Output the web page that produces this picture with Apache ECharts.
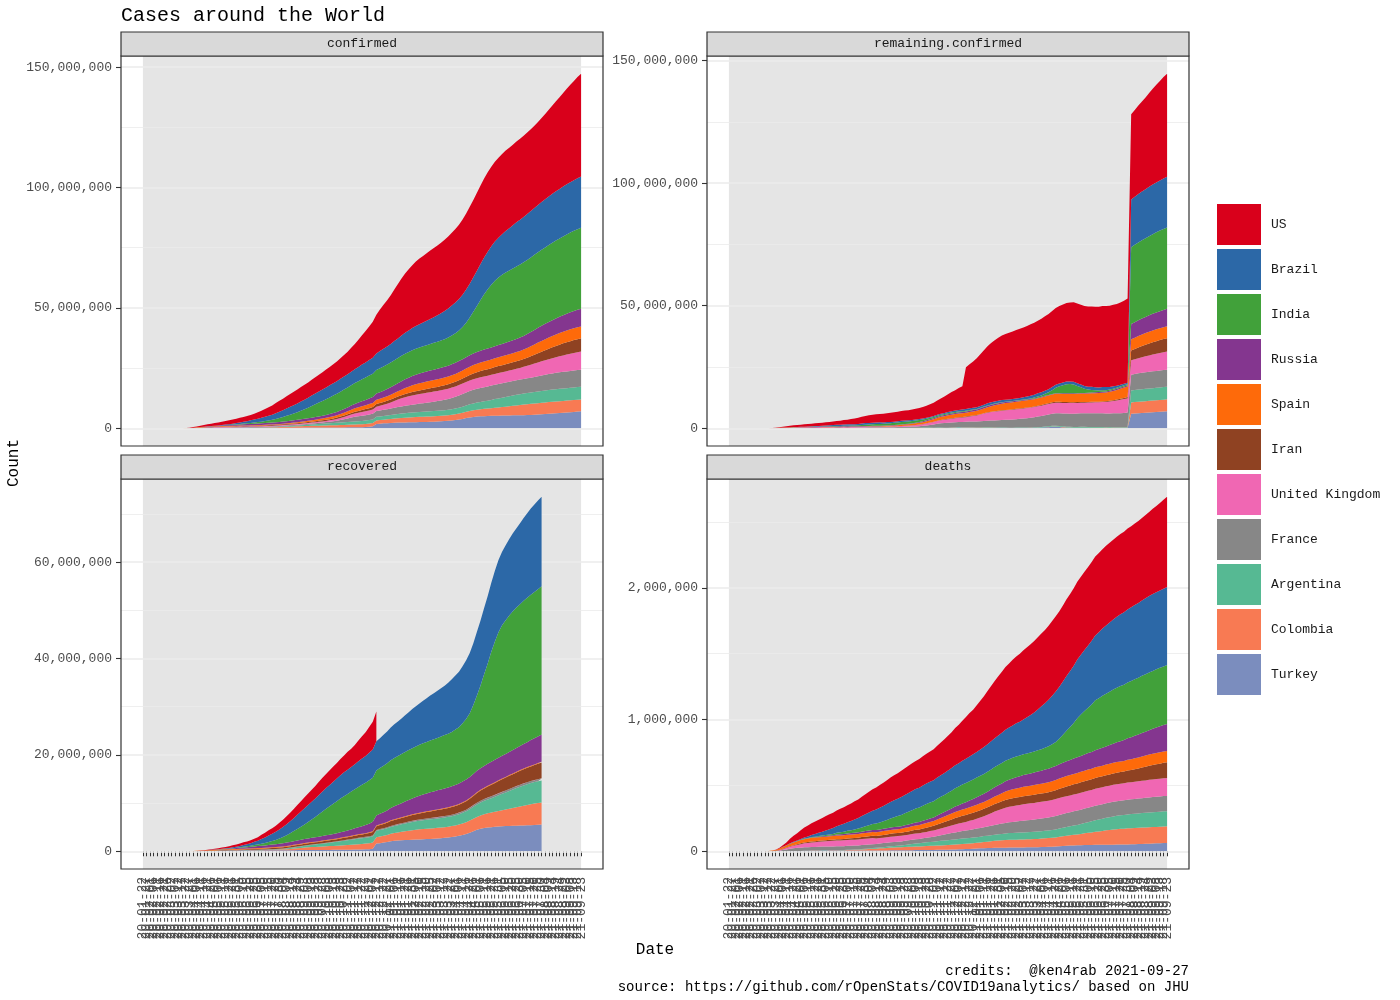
<!DOCTYPE html>
<html><head><meta charset="utf-8">
<script src="https://cdn.jsdelivr.net/npm/echarts@6/dist/echarts.min.js"></script>
<style>html,body{margin:0;padding:0;background:#fff}#c{width:1400px;height:1000px}</style>
</head><body><div id="c"></div>
<script>
// ---- categories (dates, %y-%m-%d) ----
const dates = ['20-01-22','20-01-27','20-02-01','20-02-06','20-02-11','20-02-16','20-02-21','20-02-26','20-03-02','20-03-07',
'20-03-12','20-03-17','20-03-22','20-03-27','20-04-01','20-04-06','20-04-11','20-04-16','20-04-21','20-04-26',
'20-05-01','20-05-06','20-05-11','20-05-16','20-05-21','20-05-26','20-05-31','20-06-05','20-06-10','20-06-15',
'20-06-20','20-06-25','20-06-30','20-07-05','20-07-10','20-07-15','20-07-20','20-07-25','20-07-30','20-08-04',
'20-08-09','20-08-14','20-08-19','20-08-24','20-08-29','20-09-03','20-09-08','20-09-13','20-09-18','20-09-23',
'20-09-28','20-10-03','20-10-08','20-10-13','20-10-18','20-10-23','20-10-28','20-11-02','20-11-07','20-11-12',
'20-11-17','20-11-22','20-11-27','20-12-02','20-12-07','20-12-12','20-12-17','20-12-22','20-12-27','21-01-01',
'21-01-06','21-01-11','21-01-16','21-01-21','21-01-26','21-01-31','21-02-05','21-02-10','21-02-15','21-02-20',
'21-02-25','21-03-02','21-03-07','21-03-12','21-03-17','21-03-22','21-03-27','21-04-01','21-04-06','21-04-11',
'21-04-16','21-04-21','21-04-26','21-05-01','21-05-06','21-05-11','21-05-16','21-05-21','21-05-26','21-05-31',
'21-06-05','21-06-10','21-06-15','21-06-20','21-06-25','21-06-30','21-07-05','21-07-10','21-07-15','21-07-20',
'21-07-25','21-07-30','21-08-04','21-08-09','21-08-14','21-08-19','21-08-24','21-08-29','21-09-03','21-09-08',
'21-09-13','21-09-18','21-09-23'];

const countries = ['US','Brazil','India','Russia','Spain','Iran','United Kingdom','France','Argentina','Colombia','Turkey'];
const countryColors = ['#D9001B','#2C68A7','#41A13A','#84368F','#FE6A0A','#8F4222','#F067B3','#878787','#56B993','#F87A53','#7B8DBE'];

// ---- y-axis tick labels per facet ----
const confirmedTicks = [0, 50000000, 100000000, 150000000];
const remainingTicks = [0, 50000000, 100000000, 150000000];
const recoveredTicks = [0, 20000000, 40000000, 60000000];
const deathsTicks = [0, 1000000, 2000000];

// ---- confirmed (thousands) ----
const confirmedUS = [0,0,0,0,0,0,0,0,0,0, 2,6,33,101,214,367,526,667,826,965, 1100,1228,1347,1467,1577,1681,1790,1897,2000,2111,
2250,2420,2637,2888,3184,3500,3830,4180,4500,4770, 5050,5330,5560,5770,5990,6200,6370,6560,6770,6970,
7170,7400,7650,7900,8170,8520,8900,9350,9900,10500, 11300,12150,13050,13950,14950,16050,17250,18300,19250,20250,
21400,22600,23700,24600,25400,26100,26750,27250,27650,28050, 28400,28700,29000,29300,29600,29900,30200,30550,30900,31250,
31600,31900,32150,32400,32600,32800,32950,33050,33150,33250, 33330,33400,33470,33530,33600,33650,33730,33850,34000,34200,
34450,34900,35400,36000,36700,37400,38100,38900,39700,40500, 41200,42000,42700];
const confirmedBrazil = [0,0,0,0,0,0,0,0,0,0, 0,0,2,3,7,12,21,31,43,62, 92,126,169,234,311,392,514,646,772,888,
1070,1230,1400,1580,1800,1970,2120,2390,2610,2800, 3040,3280,3460,3630,3850,4040,4160,4330,4500,4630,
4750,4880,5000,5100,5230,5350,5470,5550,5630,5750, 5910,6070,6240,6430,6630,6880,7110,7320,7480,7700,
7960,8130,8460,8700,8930,9200,9450,9660,9870,10080, 10390,10650,11020,11360,11690,12050,12490,12840,13100,13480,
13830,14120,14370,14660,15000,15280,15590,15970,16270,16550, 16900,17300,17530,17880,18330,18620,18800,19090,19260,19420,
19650,19840,20030,20160,20320,20460,20580,20740,20860,20930, 21020,21230,21330];
const confirmedIndia = [0,0,0,0,0,0,0,0,0,0, 0,0,0,1,2,5,8,13,20,28, 37,53,71,91,118,150,190,236,287,343,
411,491,586,697,822,970,1155,1385,1640,1908, 2215,2526,2837,3167,3542,3936,4370,4846,5308,5732,
6145,6550,6907,7239,7550,7814,8040,8230,8460,8680, 8870,9140,9350,9530,9680,9830,9960,10060,10190,10290,
10390,10470,10560,10630,10680,10750,10810,10870,10920,10990, 11060,11140,11230,11330,11470,11650,11910,12250,12690,13360,
14290,15620,17310,19170,21070,22990,24680,26030,27160,28010, 28700,29190,29570,29880,30130,30360,30590,30800,30990,31170,
31370,31570,31770,31970,32160,32320,32470,32700,32910,33170, 33340,33470,33590];
const confirmedRussia = [0,0,0,0,0,0,0,0,0,0, 0,0,0,1,3,7,14,28,53,87, 115,166,222,273,317,363,405,450,494,537,
577,613,647,681,713,746,776,806,834,861, 887,912,937,961,985,1010,1035,1062,1092,1128,
1170,1220,1280,1347,1415,1487,1564,1655,1750,1850, 1950,2065,2190,2320,2460,2600,2740,2880,3020,3150,
3260,3400,3520,3630,3740,3840,3930,4010,4090,4160, 4230,4290,4350,4400,4450,4500,4540,4590,4630,4670,
4710,4750,4790,4830,4870,4910,4950,4990,5030,5080, 5130,5190,5260,5350,5450,5560,5680,5800,5930,6050,
6170,6280,6390,6490,6590,6690,6790,6880,6970,7060, 7150,7250,7340];
const confirmedSpain = [0,0,0,0,0,0,0,0,0,1, 3,12,29,65,104,136,163,184,205,223, 218,221,227,231,233,236,239,241,242,244,
246,248,250,251,254,258,264,273,286,302, 322,343,370,405,440,480,535,576,640,694,
749,789,848,896,937,1046,1160,1240,1330,1440, 1510,1580,1630,1670,1700,1730,1770,1820,1860,1930,
2020,2140,2250,2460,2640,2790,2910,3000,3060,3110, 3150,3170,3190,3200,3220,3240,3260,3280,3310,3350,
3380,3420,3460,3490,3540,3580,3600,3620,3660,3680, 3700,3720,3740,3760,3780,3810,3880,4000,4160,4310,
4450,4550,4610,4660,4710,4760,4800,4830,4870,4890, 4910,4930,4950];
const confirmedIran = [0,0,0,0,0,0,0,0,2,6, 10,17,22,32,47,60,70,78,85,91, 96,101,108,118,128,139,152,168,180,190,
203,215,227,240,252,264,276,288,301,314, 324,336,348,359,371,382,395,407,419,432,
453,475,496,518,539,568,597,632,673,716, 763,828,895,962,1028,1083,1131,1170,1203,1233,
1262,1290,1320,1350,1380,1420,1455,1490,1530,1570, 1615,1660,1700,1740,1780,1820,1860,1910,1980,2070,
2190,2310,2420,2520,2600,2670,2730,2790,2840,2890, 2940,2990,3040,3100,3150,3220,3290,3380,3490,3620,
3770,3950,4120,4300,4500,4690,4870,5030,5160,5270, 5360,5430,5480];
const confirmedUK = [0,0,0,0,0,0,0,0,0,0, 1,2,6,15,30,52,80,104,131,153, 178,203,224,241,252,263,275,285,292,298,
304,308,313,286,289,292,296,300,303,307, 312,317,322,327,334,340,355,372,391,415,
443,491,562,640,725,830,942,1058,1180,1310, 1430,1530,1610,1680,1750,1850,1960,2110,2300,2550,
2840,3120,3360,3550,3690,3820,3920,3990,4050,4100, 4140,4180,4210,4240,4270,4300,4330,4350,4370,4380,
4400,4410,4420,4430,4440,4450,4460,4470,4490,4500, 4530,4560,4610,4670,4750,4860,5000,5170,5390,5610,
5800,5900,6040,6170,6320,6480,6630,6790,6970,7120, 7280,7440,7600];
const confirmedFrance = [0,0,0,0,0,0,0,0,0,1, 3,8,16,33,57,99,125,148,158,162, 168,174,178,180,181,183,189,191,193,194,
197,198,202,205,208,211,214,219,225,229, 240,253,266,282,309,335,365,404,444,493,
539,606,676,757,869,1040,1240,1470,1750,1950, 2060,2170,2240,2280,2330,2390,2460,2530,2590,2680,
2770,2870,2970,3070,3170,3280,3390,3500,3580,3680, 3800,3920,4030,4160,4310,4470,4650,4850,5060,5240,
5380,5530,5620,5690,5790,5850,5890,5940,5990,6010, 6030,6050,6060,6070,6080,6090,6100,6120,6160,6220,
6310,6420,6530,6630,6730,6810,6880,6930,6970,7000, 7030,7050,7060];
const confirmedArgentina = [0,0,0,0,0,0,0,0,0,0, 0,0,0,1,1,2,2,3,3,4, 5,5,6,8,10,13,17,21,26,33,
42,53,65,77,94,111,131,153,180,207, 242,277,313,359,408,461,513,566,623,677,
736,791,849,917,989,1069,1130,1183,1236,1285, 1330,1370,1400,1440,1470,1500,1530,1560,1590,1630,
1680,1740,1790,1840,1880,1920,1960,1990,2030,2060, 2100,2130,2160,2200,2230,2260,2320,2380,2450,2530,
2630,2740,2850,2960,3050,3150,3270,3420,3590,3750, 3880,4020,4150,4260,4370,4450,4560,4640,4720,4800,
4860,4920,4970,5020,5060,5090,5120,5150,5170,5200, 5220,5240,5250];
const confirmedColombia = [0,0,0,0,0,0,0,0,0,0, 0,0,0,1,1,2,3,3,4,5, 7,9,11,15,18,24,30,37,46,57,
69,84,98,117,134,166,198,241,287,335, 385,434,489,542,600,641,679,716,751,784,
818,847,877,919,959,998,1033,1064,1127,1165, 1206,1248,1300,1340,1390,1440,1480,1530,1600,1660,
1740,1820,1910,1990,2060,2120,2160,2190,2220,2240, 2260,2270,2290,2300,2320,2340,2380,2420,2470,2530,
2600,2690,2780,2870,2950,3030,3110,3200,3310,3420, 3540,3660,3810,3960,4110,4250,4400,4520,4610,4670,
4720,4760,4790,4820,4840,4860,4880,4890,4900,4910, 4930,4940,4950];
const confirmedTurkey = [0,0,0,0,0,0,0,0,0,0, 0,0,1,6,16,31,52,74,96,110, 123,131,139,148,153,158,164,169,174,180,
187,195,200,206,209,215,220,224,229,234, 240,247,254,261,268,276,284,291,299,307,
316,323,330,338,345,354,364,377,392,410, 430,453,510,660,830,1810,1930,2040,2120,2220,
2300,2360,2400,2430,2460,2480,2520,2560,2590,2630, 2680,2730,2800,2880,2970,3090,3240,3400,3630,3900,
4220,4500,4710,4850,4950,5040,5100,5160,5210,5250, 5290,5320,5350,5370,5400,5420,5450,5490,5530,5590,
5680,5800,5930,6060,6170,6270,6370,6480,6590,6700, 6800,6930,7040];

// ---- recovered (thousands); reporting stops after the last value ----
const recoveredUS = [0,0,0,0,0,0,0,0,0,0, 0,0,0,1,8,20,31,54,77,107, 164,200,246,298,361,416,463,500,541,576,
617,656,721,894,983,1075,1160,1279,1416,1528, 1669,1797,1925,2023,2140,2266,2387,2474,2591,2710,
2840,2935,3039,3141,3220,3375,3487,3706,3781,4000, 4290,4630,4947,5350,5714,6200];
const recoveredBrazil = [0,0,0,0,0,0,0,0,0,0, 0,0,0,0,0,0,0,14,23,27, 38,51,67,94,122,158,212,277,378,450,
534,677,789,958,1150,1370,1530,1690,1880,2070, 2270,2480,2670,2950,3160,3380,3550,3720,3850,4000,
4140,4300,4430,4560,4700,4840,4970,5030,5090,5200, 5340,5440,5530,5700,5870,6040,6200,6400,6600,6800,
7000,7190,7370,7620,7860,8110,8360,8600,8830,9090, 9350,9560,9800,10030,10260,10570,10940,11250,11550,11870,
12200,12510,12840,13180,13500,13750,14000,14330,14670,14970, 15270,15580,15900,16160,16430,16800,17190,17540,17900,18170,
18430,18600];
const recoveredIndia = [0,0,0,0,0,0,0,0,0,0, 0,0,0,0,0,0,1,2,4,6, 10,15,22,34,48,64,91,114,142,180,
228,285,347,424,516,612,725,885,1060,1282, 1536,1808,2096,2404,2713,3037,3398,3780,4208,4674,
5101,5509,5900,6301,6663,7003,7315,7591,7868,8112, 8335,8578,8786,8990,9160,9340,9500,9650,9780,9900,
10020,10120,10210,10290,10360,10430,10500,10570,10620,10670, 10730,10800,10880,10960,11060,11160,11250,11490,11660,12090,
12570,13240,14290,15660,17140,18990,20810,22840,24550,26030, 27050,27730,28290,28800,29140,29430,29720,29950,30160,30340,
30540,30740];
const recoveredRussia = [0,0,0,0,0,0,0,0,0,0, 0,0,0,0,0,0,1,2,4,8, 13,20,40,63,86,131,172,213,253,285,
333,375,412,451,489,525,559,591,637,667, 700,731,752,779,803,828,851,874,900,924,
954,985,1014,1047,1080,1122,1172,1227,1305,1385, 1480,1575,1680,1800,1950,2070,2180,2290,2420,2560,
2660,2770,2900,3030,3160,3280,3400,3510,3620,3720, 3810,3880,3950,4010,4060,4110,4160,4210,4250,4300,
4340,4380,4420,4460,4490,4530,4570,4610,4650,4690, 4730,4770,4810,4860,4920,4990,5080,5180,5300,5420,
5540,5650];
const recoveredSpain = [0,0,0,0,0,0,0,0,0,0, 0,1,3,9,23,41,59,75,86,109, 118,137,139,146,150,150,150,150,150,150,
150,150,150,150,150,150,150,150,150,150, 150,150,150,150,150,150,150,150,150,150,
150,150,150,150,150,150,150,150,150,150, 150,150,150,150,150,150,150,150,150,150,
150,150,150,150,150,150,150,150,150,150, 150,150,150,150,150,150,150,150,150,150,
150,150,150,150,150,150,150,150,150,150, 150,150,150,150,150,150,150,150,150,150,
150,150];
const recoveredIran = [0,0,0,0,0,0,0,0,0,2, 3,6,8,11,16,24,42,52,61,70, 77,81,85,94,101,109,119,131,142,152,
164,176,189,202,214,227,239,251,261,272, 282,291,301,311,321,330,340,350,361,364,
378,389,402,413,429,454,482,506,537,567, 577,593,618,672,725,780,832,881,920,1000,
1040,1080,1110,1140,1170,1200,1230,1260,1300,1330, 1370,1410,1450,1480,1520,1540,1570,1600,1640,1680,
1740,1810,1910,2010,2110,2200,2300,2390,2470,2550, 2610,2660,2720,2770,2820,2870,2920,2970,3030,3100,
3180,3290];
const recoveredUK = [0,0,0,0,0,0,0,0,0,0, 0,0,0,0,0,0,0,0,0,0, 0,0,0,0,0,0,1,1,1,1,
1,1,1,1,1,1,2,2,2,2, 2,2,2,2,2,2,2,2,2,2,
2,2,2,3,3,3,3,3,3,3, 3,3,3,4,4,4,4,4,5,5,
6,6,7,7,8,8,9,10,10,11, 11,12,12,13,13,14,14,15,15,15,
16,16,16,17,17,17,18,18,18,19, 19,19,20,20,21,21,22,23,24,24,
25,25];
const recoveredFrance = [0,0,0,0,0,0,0,0,0,0, 0,1,2,5,10,17,25,32,40,45, 50,54,57,60,64,66,68,69,71,72,
74,75,76,77,79,79,80,81,82,82, 83,84,85,86,87,89,91,92,94,96,
98,100,103,106,110,115,120,127,135,145, 154,162,170,174,178,182,186,190,195,200,
205,210,215,220,225,230,236,242,248,253, 258,263,268,274,280,286,293,300,308,316,
324,332,340,347,354,360,366,371,376,380, 384,387,390,392,394,396,397,399,400,402,
404,406];
const recoveredArgentina = [0,0,0,0,0,0,0,0,0,0, 0,0,0,0,0,0,1,1,1,1, 1,2,2,3,3,4,5,7,8,10,
13,20,26,32,39,48,57,67,78,100, 135,180,225,271,312,344,395,440,484,537,
586,638,689,743,799,874,935,1003,1063,1114, 1160,1200,1231,1265,1294,1323,1353,1380,1410,1440,
1480,1510,1560,1610,1660,1710,1750,1790,1830,1860, 1890,1920,1950,1980,2010,2040,2070,2110,2150,2210,
2270,2360,2460,2570,2680,2780,2880,2990,3120,3280, 3430,3570,3720,3860,3990,4110,4210,4300,4390,4460,
4530,4600];
const recoveredColombia = [0,0,0,0,0,0,0,0,0,0, 0,0,0,0,0,0,0,1,1,1, 2,2,3,4,4,6,12,15,18,23,
29,36,43,52,57,74,94,118,152,181, 223,267,344,399,448,531,576,619,642,677,
720,755,788,817,857,901,934,962,1013,1045, 1109,1145,1193,1229,1276,1320,1370,1410,1460,1530,
1590,1660,1740,1820,1910,1990,2050,2090,2130,2150, 2170,2180,2200,2210,2230,2240,2260,2290,2330,2380,
2430,2500,2580,2670,2760,2850,2940,3020,3110,3210, 3320,3430,3540,3680,3820,3960,4100,4240,4360,4450,
4520,4570];
const recoveredTurkey = [0,0,0,0,0,0,0,0,0,0, 0,0,0,0,0,1,3,4,14,29, 56,78,99,108,117,121,128,137,147,154,
161,169,174,181,187,195,201,206,211,216, 222,228,233,239,245,251,256,261,266,272,
278,284,290,296,302,309,318,327,337,349, 364,380,400,440,530,1600,1690,1800,1920,2090,
2190,2250,2290,2330,2360,2390,2420,2460,2500,2530, 2570,2610,2660,2720,2780,2860,2960,3080,3220,3400,
3600,3860,4180,4460,4680,4830,4930,5010,5080,5140, 5180,5220,5260,5280,5310,5340,5360,5380,5410,5440,
5480,5530];

// ---- deaths (thousands) ----
const deathsUS = [0,0,0,0,0,0,0,0,0,0, 0,0,0,2,5,12,22,35,46,55, 66,75,82,89,95,99,104,109,113,116,
120,124,127,130,133,137,141,146,152,157, 162,167,172,177,182,186,190,194,199,203,
207,211,214,218,222,226,230,235,241,248, 256,264,272,282,292,304,317,330,339,355,
370,386,403,420,435,450,464,477,487,498, 508,515,525,532,537,543,548,553,557,561,
566,570,574,578,582,585,588,590,592,594, 596,598,600,602,603,604,605,606,608,609,
611,613,615,618,621,626,632,639,647,655, 664,675,685];
const deathsBrazil = [0,0,0,0,0,0,0,0,0,0, 0,0,0,0,0,1,1,2,3,4, 6,9,12,15,20,25,29,35,40,44,
50,55,60,65,70,76,80,86,92,96, 101,107,112,116,121,126,129,132,136,139,
142,146,148,151,154,156,158,160,162,164, 167,169,172,175,177,181,184,188,191,195,
199,204,209,214,219,224,229,235,240,246, 252,258,265,275,285,295,310,325,337,353,
369,383,392,404,416,425,434,446,452,463, 472,483,491,501,510,518,525,532,539,545,
550,555,560,564,568,572,576,580,583,585, 587,590,593];
const deathsIndia = [0,0,0,0,0,0,0,0,0,0, 0,0,0,0,0,0,0,0,1,1, 1,2,2,3,4,4,5,7,8,10,
13,15,17,20,22,25,28,32,36,40, 45,49,54,58,63,68,74,80,86,91,
96,101,106,110,114,118,121,123,126,128, 130,133,136,139,141,143,145,146,148,149,
150,151,152,153,154,154,155,156,156,157, 157,157,158,158,159,160,161,163,166,170,
175,182,195,212,231,250,270,295,315,330, 345,360,380,385,395,400,405,410,414,418,
420,424,427,429,431,434,436,438,440,442, 444,445,447];
const deathsRussia = [0,0,0,0,0,0,0,0,0,0, 0,0,0,0,0,0,0,0,1,1, 1,2,2,3,3,4,5,5,6,7,
8,9,9,10,11,12,13,13,14,15, 15,16,16,17,17,18,18,19,19,20,
21,21,22,23,24,26,27,28,30,32, 34,36,38,41,43,46,48,51,54,57,
59,62,65,67,70,73,75,78,80,82, 85,87,89,91,93,95,97,99,101,103,
105,107,109,111,113,115,117,119,121,123, 125,127,129,132,135,138,142,146,150,154,
158,162,166,170,174,178,182,185,189,193, 197,201,205];
const deathsSpain = [0,0,0,0,0,0,0,0,0,0, 0,1,2,5,9,13,16,19,21,23, 25,26,27,28,28,27,27,27,27,27,
28,28,28,28,28,28,28,28,28,29, 29,29,29,29,29,29,30,30,30,31,
32,32,33,33,34,35,35,36,39,40, 41,43,44,46,47,48,49,49,50,51,
52,52,53,55,57,59,61,64,66,68, 69,70,71,72,73,74,75,75,76,76,
77,77,78,78,79,79,79,80,80,80, 80,80,81,81,81,81,81,81,81,81,
81,82,82,83,83,84,84,85,85,85, 86,86,86];
const deathsIran = [0,0,0,0,0,0,0,0,0,0, 0,1,2,2,3,4,4,5,5,6, 6,6,7,7,7,8,8,8,9,9,
10,10,11,12,12,13,14,15,16,17, 18,19,20,21,21,22,23,23,24,25,
26,27,28,29,31,32,34,36,38,40, 42,44,46,49,50,52,53,54,55,55,
56,56,57,57,57,58,58,59,59,60, 60,60,61,61,61,62,62,63,63,64,
66,68,70,72,74,75,77,78,79,80, 81,82,82,83,84,84,85,86,87,88,
89,91,93,95,98,101,104,107,110,113, 115,117,119];
const deathsUK = [0,0,0,0,0,0,0,0,0,0, 0,0,0,1,3,6,10,14,18,21, 27,30,32,34,36,37,38,40,41,42,
43,43,44,44,45,45,45,46,46,46, 46,41,41,41,42,42,42,42,42,42,
42,43,43,43,44,45,46,47,49,51, 53,55,58,60,62,64,66,69,71,75,
79,83,89,95,101,106,111,115,118,120, 122,123,125,125,126,126,127,127,127,127,
127,128,128,128,128,128,128,128,128,128, 128,128,128,128,128,128,128,129,129,129,
129,130,130,131,131,132,132,133,133,134, 134,135,136];
const deathsFrance = [0,0,0,0,0,0,0,0,0,0, 0,0,1,2,4,9,13,18,21,23, 24,26,27,28,28,29,29,29,29,29,
30,30,30,30,30,30,30,30,30,30, 30,30,30,31,31,31,31,31,31,32,
32,32,33,33,34,34,36,37,40,43, 46,49,51,53,55,57,59,61,63,65,
66,68,70,72,74,76,78,80,82,84, 86,87,89,90,92,93,95,96,98,99,
101,103,104,105,106,107,108,109,109,110, 110,110,111,111,111,111,111,111,111,111,
112,112,112,112,113,113,114,114,115,115, 116,116,116];
const deathsArgentina = [0,0,0,0,0,0,0,0,0,0, 0,0,0,0,0,0,0,0,0,0, 0,0,0,0,0,1,1,1,1,1,
1,1,1,2,2,2,2,3,3,4, 5,6,7,8,9,10,11,12,13,15,
17,21,23,24,26,28,30,32,33,35, 36,37,38,39,40,41,41,42,43,43,
44,45,45,46,47,48,49,50,51,51, 52,53,53,54,54,55,56,56,57,58,
59,60,62,64,66,67,70,72,75,78, 81,84,87,90,92,95,97,99,101,103,
104,106,107,108,109,110,111,112,113,114, 114,115,115];
const deathsColombia = [0,0,0,0,0,0,0,0,0,0, 0,0,0,0,0,0,0,0,0,0, 0,0,0,1,1,1,1,1,2,2,
2,3,3,4,5,6,7,8,10,11, 13,14,16,17,19,21,22,23,24,25,
26,27,27,28,29,30,31,31,32,33, 34,35,36,37,38,39,40,41,42,43,
45,47,49,51,53,55,56,58,59,59, 60,60,61,61,62,62,63,64,65,66,
67,69,72,74,76,79,81,83,86,89, 92,95,99,102,105,109,112,115,117,119,
120,122,122,123,123,124,124,125,125,125, 125,126,126];
const deathsTurkey = [0,0,0,0,0,0,0,0,0,0, 0,0,0,0,0,1,1,2,2,3, 3,4,4,4,4,4,5,5,5,5,
5,5,5,5,5,5,5,6,6,6, 6,6,6,6,6,7,7,7,7,8,
8,8,9,9,9,10,10,10,11,11, 12,12,13,14,15,16,17,18,19,21,
22,23,24,25,26,26,27,27,28,28, 28,29,29,30,30,31,31,32,33,34,
35,36,38,40,42,43,44,45,46,47, 48,48,49,49,49,50,50,50,51,51,
51,52,53,54,55,56,57,58,59,60, 61,62,63];

// ---------------- build ----------------
const UNIT = 1000;
const confirmedTable = [confirmedUS,confirmedBrazil,confirmedIndia,confirmedRussia,confirmedSpain,confirmedIran,confirmedUK,confirmedFrance,confirmedArgentina,confirmedColombia,confirmedTurkey];
const recoveredTable = [recoveredUS,recoveredBrazil,recoveredIndia,recoveredRussia,recoveredSpain,recoveredIran,recoveredUK,recoveredFrance,recoveredArgentina,recoveredColombia,recoveredTurkey];
const deathsTable = [deathsUS,deathsBrazil,deathsIndia,deathsRussia,deathsSpain,deathsIran,deathsUK,deathsFrance,deathsArgentina,deathsColombia,deathsTurkey];

const N = dates.length;
function val(arr, i){ return (i < arr.length && arr[i] != null) ? arr[i] * UNIT : null; }
const confData = confirmedTable.map(a => dates.map((d,i) => val(a,i)));
const recData = recoveredTable.map(a => dates.map((d,i) => val(a,i)));
const deathData = deathsTable.map(a => dates.map((d,i) => val(a,i)));
// remaining.confirmed = confirmed - recovered - deaths (missing recovered counted as 0)
const remData = confirmedTable.map((a,ci) => dates.map((d,i) => {
  const c = val(a,i); if (c == null) return null;
  const r = val(recoveredTable[ci], i) || 0;
  const dd = val(deathsTable[ci], i) || 0;
  return Math.max(0, c - r - dd);
}));

const FONT = "'Liberation Mono','DejaVu Sans Mono',monospace";
const W = 482, H = 390, STRIP = 24;
const panels = [
  {name:'confirmed', data:confData, ticks:confirmedTicks, left:121, top:56, showX:false},
  {name:'remaining.confirmed', data:remData, ticks:remainingTicks, left:707, top:56, showX:false},
  {name:'recovered', data:recData, ticks:recoveredTicks, left:121, top:479, showX:true},
  {name:'deaths', data:deathData, ticks:deathsTicks, left:707, top:479, showX:true}
];
function fmt(v){ return Math.round(v).toString().replace(/\B(?=(\d{3})+(?!\d))/g, ','); }

const grid = [], xAxis = [], yAxis = [], series = [], graphic = [];
panels.forEach((p, pi) => {
  let M = 0;
  for (let i = 0; i < N; i++) {
    let s = 0; p.data.forEach(arr => { if (arr[i] != null) s += arr[i]; });
    if (s > M) M = s;
  }
  const yMax = M * 1.05;
  const gridH = H * 1.05 / 1.1;
  const inset = W * 0.05 / 1.1;
  const step = p.ticks[1] - p.ticks[0];
  // frame grid (full panel width): gridlines + y labels
  grid.push({left:p.left, top:p.top, width:W, height:gridH});
  xAxis.push({gridIndex:2*pi, type:'value', show:false, min:0, max:1});
  yAxis.push({gridIndex:2*pi, type:'value', min:0, max:yMax, interval:step, z:1,
    axisLine:{show:false},
    axisTick:{show:true, length:5, lineStyle:{color:'#333333', width:1.1}, customValues:p.ticks},
    axisLabel:{customValues:p.ticks, formatter:fmt, fontFamily:FONT, fontSize:13, color:'#4D4D4D', margin:9},
    splitLine:{show:true, lineStyle:{color:'#EBEBEB', width:1.5}},
    minorTick:{show:false, splitNumber:2},
    minorSplitLine:{show:true, lineStyle:{color:'#EBEBEB', width:0.8}}
  });
  // data grid
  grid.push({left:p.left + inset, top:p.top, width:W - 2*inset, height:gridH});
  xAxis.push({gridIndex:2*pi+1, type:'category', data:dates, boundaryGap:false, show:p.showX, offset:H - gridH,
    axisLine:{show:false},
    axisTick:{show:true, interval:0, length:5, lineStyle:{color:'#333333', width:1}},
    axisLabel:{interval:0, rotate:90, fontFamily:FONT, fontSize:13, color:'#4D4D4D', margin:8},
    splitLine:{show:false}
  });
  yAxis.push({gridIndex:2*pi+1, type:'value', min:0, max:yMax, show:false, splitLine:{show:false}});
  // stacked areas: bottom = Turkey ... top = US
  for (let ci = countries.length - 1; ci >= 0; ci--) {
    series.push({type:'line', name:countries[ci], xAxisIndex:2*pi+1, yAxisIndex:2*pi+1,
      stack:'s'+pi, stackStrategy:'all', data:p.data[ci], symbol:'none', showSymbol:false,
      lineStyle:{width:0, color:countryColors[ci]}, itemStyle:{color:countryColors[ci]},
      areaStyle:{color:countryColors[ci], opacity:1}, emphasis:{disabled:true}, silent:true, z:2});
  }
  // panel decoration
  graphic.push({type:'rect', z:0, silent:true, shape:{x:p.left + inset, y:p.top, width:W - 2*inset, height:H}, style:{fill:'#E5E5E5'}});
  graphic.push({type:'rect', z:10, silent:true, shape:{x:p.left, y:p.top, width:W, height:H}, style:{fill:null, stroke:'#333333', lineWidth:1.2}});
  graphic.push({type:'rect', z:10, silent:true, shape:{x:p.left, y:p.top - STRIP, width:W, height:STRIP}, style:{fill:'#D9D9D9', stroke:'#333333', lineWidth:1.2}});
  graphic.push({type:'text', z:11, silent:true, x:p.left + W/2, y:p.top - STRIP/2,
    style:{text:p.name, font:"13px " + FONT, fill:'#1A1A1A', textAlign:'center', textVerticalAlign:'middle', verticalAlign:'middle', align:'center'}});
});

graphic.push({type:'text', silent:true, x:14, y:463, rotation:Math.PI/2,
  style:{text:'Count', font:"16px " + FONT, fill:'#000', textAlign:'center', textVerticalAlign:'middle', align:'center', verticalAlign:'middle'}});
graphic.push({type:'text', silent:true, x:655, y:950,
  style:{text:'Date', font:"16px " + FONT, fill:'#000', textAlign:'center', textVerticalAlign:'middle', align:'center', verticalAlign:'middle'}});
graphic.push({type:'text', silent:true, x:1189, y:971,
  style:{text:'credits:  @ken4rab 2021-09-27', font:"14px " + FONT, fill:'#000', textAlign:'right', textVerticalAlign:'middle', align:'right', verticalAlign:'middle'}});
graphic.push({type:'text', silent:true, x:1189, y:987,
  style:{text:'source: https://github.com/rOpenStats/COVID19analytics/ based on JHU', font:"14px " + FONT, fill:'#000', textAlign:'right', textVerticalAlign:'middle', align:'right', verticalAlign:'middle'}});

const chart = echarts.init(document.getElementById('c'), null, {renderer:'canvas'});
chart.setOption({
  animation:false,
  backgroundColor:'#FFFFFF',
  title:{text:'Cases around the World', left:121, top:6, padding:0, textStyle:{fontFamily:FONT, fontSize:20, fontWeight:'normal', color:'#000'}},
  legend:{data:countries, orient:'vertical', left:1217, top:204, padding:0, itemWidth:44, itemHeight:41, itemGap:4, icon:'rect',
    selectedMode:false, itemStyle:{borderWidth:0},
    textStyle:{fontFamily:FONT, fontSize:13, color:'#1A1A1A', padding:[0,0,0,5]}},
  grid, xAxis, yAxis, series, graphic
});
</script>
</body></html>
